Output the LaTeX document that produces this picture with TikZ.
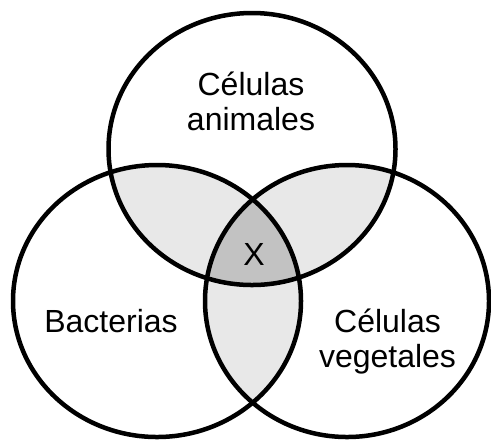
\documentclass[tikz,border=0pt]{standalone}
\usepackage{fontspec}
\setmainfont{Liberation Sans}
\usepackage{xcolor}
\usepackage{tikz}
\usetikzlibrary{positioning}

\definecolor{pairgray}{HTML}{E8E8E8}
\definecolor{triplegray}{HTML}{C2C2C2}

\tikzset{
  setline/.style={line width=2.25pt},
  setlabel/.style={align=center,anchor=base,inner sep=0pt,font=\fontsize{16}{17.5}\selectfont}
}
\def\animal{(252,149) ellipse [x radius=71.75pt, y radius=68pt]}
\def\bacter{(157,301) ellipse [x radius=72pt, y radius=68pt]}
\def\vegetal{(347,301) ellipse [x radius=71pt, y radius=68pt]}

\begin{document}
\begin{tikzpicture}[x=0.5pt,y=-0.5pt]
\useasboundingbox[fill=white] (0,0) rectangle (491,441);
% pairwise overlaps
\begin{scope}\clip \animal; \fill[pairgray] \bacter; \fill[pairgray] \vegetal;\end{scope}
\begin{scope}\clip \bacter; \fill[pairgray] \vegetal;\end{scope}
% all three
\begin{scope}\clip \animal; \clip \bacter; \fill[triplegray] \vegetal;\end{scope}
\draw[setline] \animal;
\draw[setline] \bacter;
\draw[setline] \vegetal;
\node[setlabel] (animales) at (251,130) {Células\\animales};
\node[setlabel] (bacterias) at (111,332) {Bacterias};
\node[setlabel] (vegetales) at (387.5,367) {Células\\vegetales};
\node[setlabel] (equis) at (254,265) {X};
\end{tikzpicture}
\end{document}
